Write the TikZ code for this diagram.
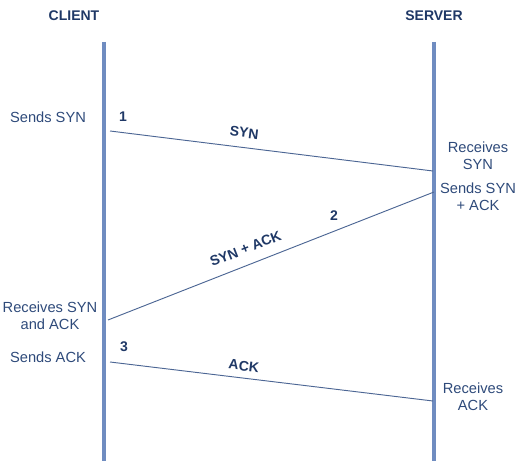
\documentclass[tikz,border=0pt]{standalone}
\usepackage{fontspec}
\setmainfont{Liberation Sans}
\usepackage{xcolor}

\begin{document}
\begin{tikzpicture}[x = 0.75pt,
                    y = -0.75pt,
                    scale = 1]

  \useasboundingbox (0,0) rectangle (522,463);

  % COLORS
  \definecolor{lifecolor_h}{rgb}{ 0.435,0.549,0.753 }
  \definecolor{msgcolor_h}{rgb}{ 0.30,0.40,0.58 }
  \definecolor{headcolor_h}{rgb}{ 0.12,0.22,0.40 }
  \definecolor{notecolor_h}{rgb}{ 0.18,0.29,0.48 }

  % STYLES
  \tikzstyle{lifestyle_h} = [draw=lifecolor_h, line width=3pt]
  \tikzstyle{msgstyle_h} = [draw=msgcolor_h, line width=0.7pt]
  \tikzstyle{headstyle_h} = [text=headcolor_h, font=\bfseries\fontsize{10.5}{12}\selectfont, inner sep=0pt]
  \tikzstyle{notestyle_h} = [text=notecolor_h, font=\fontsize{11}{13}\selectfont, align=center, inner sep=0pt]
  \tikzstyle{msglabel_h} = [text=headcolor_h, font=\bfseries\fontsize{10.5}{12}\selectfont, inner sep=0pt, sloped, above]


  % DEF POINTS
  \coordinate (client_top) at (104, 42);
  \coordinate (client_bot) at (104, 461);
  \coordinate (server_top) at (434, 42);
  \coordinate (server_bot) at (434, 461);
  \coordinate (syn_a) at (110, 131);
  \coordinate (syn_b) at (433, 171);
  \coordinate (synack_a) at (434, 192);
  \coordinate (synack_b) at (108, 320);
  \coordinate (ack_a) at (110, 362);
  \coordinate (ack_b) at (433, 401);


  % LIFELINES
  \node[headstyle_h] (client) at (74, 16) {CLIENT};
  \node[headstyle_h] (server) at (434, 16) {SERVER};
  \draw[lifestyle_h] (client_top) -- (client_bot);
  \draw[lifestyle_h] (server_top) -- (server_bot);


  % NOTES
  \node[notestyle_h] (sends_syn) at (48, 117) {Sends SYN};
  \node[notestyle_h] (recv_syn) at (478, 156) {Receives\\SYN};
  \node[notestyle_h] (sends_synack) at (478, 197) {Sends SYN\\+ ACK};
  \node[notestyle_h] (recv_synack) at (50, 316) {Receives SYN\\and ACK};
  \node[notestyle_h] (sends_ack) at (48, 357) {Sends ACK};
  \node[notestyle_h] (recv_ack) at (473, 397) {Receives\\ACK};


  % STEPS
  \node[headstyle_h] (step_one) at (123, 117) {1};
  \node[headstyle_h] (step_two) at (334, 216) {2};
  \node[headstyle_h] (step_three) at (124, 347) {3};


  % MESSAGES
  \draw[msgstyle_h] (syn_a) -- node[msglabel_h, pos=0.41, yshift=7pt] (syn_lbl) {SYN} (syn_b);
  \draw[msgstyle_h] (synack_a) -- node[msglabel_h, pos=0.56, yshift=8pt] (synack_lbl) {SYN + ACK} (synack_b);
  \draw[msgstyle_h] (ack_a) -- node[msglabel_h, pos=0.41, yshift=5pt] (ack_lbl) {ACK} (ack_b);

\end{tikzpicture}
\end{document}
